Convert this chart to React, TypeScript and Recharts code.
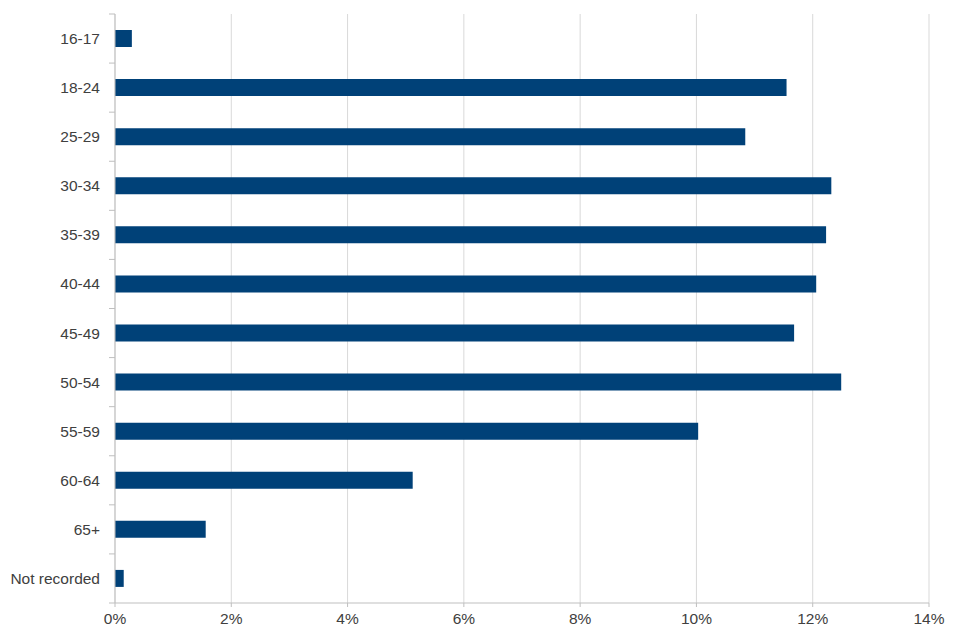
import { BarChart, Bar, XAxis, YAxis, CartesianGrid } from "recharts";

const ageGroups = [
  "16-17",
  "18-24",
  "25-29",
  "30-34",
  "35-39",
  "40-44",
  "45-49",
  "50-54",
  "55-59",
  "60-64",
  "65+",
  "Not recorded",
];

const shares = [0.29, 11.55, 10.84, 12.32, 12.23, 12.06, 11.68, 12.49, 10.03, 5.12, 1.56, 0.15];

const xTicks = [0, 2, 4, 6, 8, 10, 12, 14];

const data = ageGroups.map((group, i) => ({ group, share: shares[i] }));

const FONT = "'Liberation Sans', Arial, sans-serif";
const TEXT = "#404040";
const AXIS = "#bfbfbf";
const BAND = 589 / ageGroups.length;

// label at the band centre, tick mark on the band boundary
function CategoryTick(props: any) {
  const { y, payload, index } = props;
  const ax = 115;
  const last = index === ageGroups.length - 1;
  return (
    <g>
      <line x1={ax - 6} x2={ax} y1={y - BAND / 2} y2={y - BAND / 2} stroke={AXIS} />
      {last && <line x1={ax - 6} x2={ax} y1={y + BAND / 2} y2={y + BAND / 2} stroke={AXIS} />}
      <text x={100} y={y} dy={5.5} textAnchor="end" fill={TEXT} fontSize={15.5} fontFamily={FONT}>
        {payload.value}
      </text>
    </g>
  );
}

export default function App() {
  return (
    <div style={{ position: "absolute", left: 0, top: 0, background: "#fff" }}>
      <BarChart
        width={960}
        height={640}
        data={data}
        layout="vertical"
        margin={{ top: 14, right: 31, bottom: 0, left: 0 }}
      >
        <CartesianGrid horizontal={false} stroke="#d9d9d9" />
        <XAxis
          type="number"
          domain={[0, 14]}
          ticks={xTicks}
          interval={0}
          height={37}
          tickFormatter={(v) => `${v}%`}
          stroke={AXIS}
          tickSize={4}
          tickMargin={6}
          tick={{ fill: TEXT, fontSize: 15.5, fontFamily: FONT }}
        />
        <YAxis
          type="category"
          dataKey="group"
          width={115}
          interval={0}
          stroke={AXIS}
          tickLine={false}
          tick={<CategoryTick />}
        />
        <Bar dataKey="share" fill="#004178" barSize={17} isAnimationActive={false} />
      </BarChart>
    </div>
  );
}
